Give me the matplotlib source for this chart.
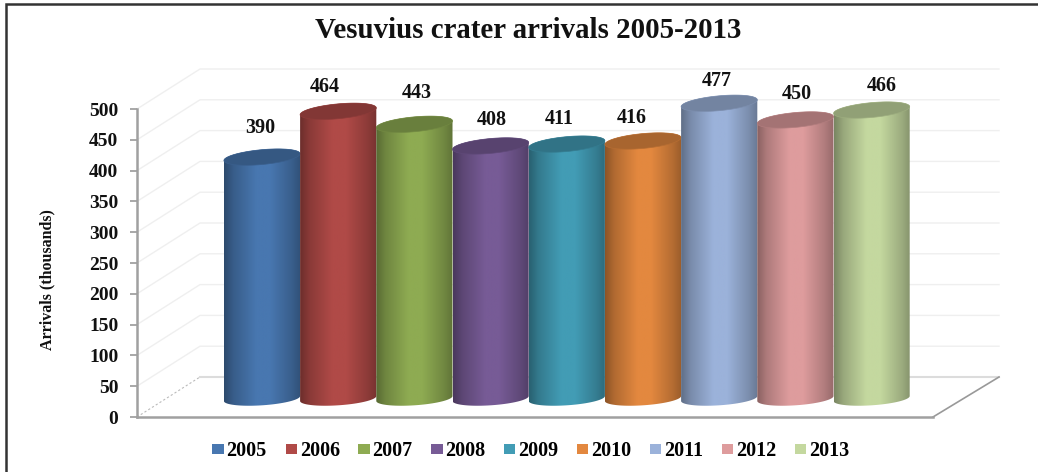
import numpy as np
import matplotlib
matplotlib.use("Agg")
import matplotlib.pyplot as plt
from matplotlib.patches import Patch, Polygon
from matplotlib.colors import to_rgb

years = ["2005", "2006", "2007", "2008", "2009", "2010", "2011", "2012", "2013"]
arrivals = [390, 464, 443, 408, 411, 416, 477, 450, 466]
y_ticks = [0, 50, 100, 150, 200, 250, 300, 350, 400, 450, 500]
colors = ["#4877b0", "#b04a47", "#8eab52", "#775b96", "#429cb5",
          "#e3883f", "#9bb2da", "#de9c9d", "#c4d89f"]
# hand placed label offsets (pixels from the top of each bar), labels are not centred in the source
label_dx = [-2, -13, 2, 1, -8, -11, -2, 1, 10]
label_dy = [29, 24, 31, 26, 25, 23, 22, 26, 24]

W, H = 1038, 472
SERIF = "Liberation Serif"

fig = plt.figure(figsize=(W / 100, H / 100), dpi=100, facecolor="white")

# background layer in pixels: border and the 3d wall
bg = fig.add_axes([0, 0, 1, 1])
bg.set_xlim(0, W)
bg.set_ylim(H, 0)
bg.axis("off")
bg.plot([6, 6, W], [H, 4, 4], color="#333333", lw=1.8, solid_joinstyle="miter")
for v in y_ticks[1:]:
    dy = v * 0.616
    bg.plot([137, 200, 999], [417 - dy, 377 - dy, 377 - dy], color="#efefef", lw=1)
bg.plot([137, 200], [417, 377], color="#bbbbbb", lw=0.8, ls=(0, (2, 2)))
bg.plot([200, 999], [377, 377], color="#dcdcdc", lw=1.5)
bg.plot([933, 999], [417, 377], color="#999999", lw=1.2)

# value axis
ax = fig.add_axes([137 / W, (H - 417) / H, (933 - 137) / W, 308 / H])
ax.patch.set_alpha(0)
ax.set_ylim(0, 500)
ax.set_xticks([])
ax.set_yticks(y_ticks)
ax.set_yticklabels(y_ticks, family=SERIF, weight="bold", fontsize=14, color="#111111")
ax.tick_params(axis="y", length=5, width=1.2, color="#999999", pad=8.5)
for s in ["top", "right"]:
    ax.spines[s].set_visible(False)
for s in ["left", "bottom"]:
    ax.spines[s].set_color("#a0a0a0")
    ax.spines[s].set_linewidth(1.8)

# cylinders layer: x is category index, y is thousands of arrivals
scale = 0.619
base_px = 398.5
step = 76.2
cyl = fig.add_axes([0, 0, 1, 1])
cyl.patch.set_alpha(0)
cyl.axis("off")

t = np.linspace(0, np.pi, 60)
shade_x = [0, 0.12, 0.42, 0.6, 0.88, 1]
shade_f = [0.62, 0.78, 1.0, 1.0, 0.8, 0.68]

for i, (val, col) in enumerate(zip(arrivals, colors)):
    rgb = np.array(to_rgb(col))
    # upper arc runs left to right, right side sits higher like the source
    xs = i - 0.5 * np.cos(t)
    top_up = val + 12 * np.sin(t) - 5.5 * np.cos(t)
    top_lo = val - 12 * np.sin(t) - 5.5 * np.cos(t)
    base_lo = -11 * np.sin(t) - 4 * np.cos(t)

    ramp = np.interp(np.linspace(0, 1, 120), shade_x, shade_f)
    img = np.clip(ramp[None, :, None] * rgb[None, None, :], 0, 1)
    im = cyl.imshow(img, extent=[i - 0.5, i + 0.5, -20, val + 20], aspect="auto",
                    interpolation="bilinear", zorder=2 + i)
    body = Polygon(np.r_[np.c_[xs, top_up], np.c_[xs[::-1], base_lo[::-1]]],
                   closed=True, transform=cyl.transData, fc="none", ec="none")
    cyl.add_patch(body)
    im.set_clip_path(body)
    cyl.add_patch(Polygon(np.r_[np.c_[xs, top_up], np.c_[xs[::-1], top_lo[::-1]]],
                          closed=True, fc=rgb * 0.74, ec=rgb * 0.8, lw=0.5, zorder=2 + i))
    cyl.annotate(str(val), (i, val), xytext=(label_dx[i], label_dy[i]),
                 textcoords="offset pixels", ha="center", va="center",
                 family=SERIF, weight="bold", fontsize=14.5, color="#111111", zorder=30)

cyl.set_xlim((0 - 262) / step, (W - 262) / step)
cyl.set_ylim((base_px - H) / scale, base_px / scale)

fig.text(528 / W, 1 - 31 / H, "Vesuvius crater arrivals 2005-2013", ha="center", va="center",
         family=SERIF, weight="bold", fontsize=20.8, color="#111111")
fig.text(47 / W, 1 - 280 / H, "Arrivals (thousands)", rotation=90, ha="center", va="center",
         family=SERIF, weight="bold", fontsize=11.5, color="#111111")

handles = [Patch(fc=c, ec="none", label=y) for c, y in zip(colors, years)]
fig.legend(handles=handles, ncol=9, loc="center", bbox_to_anchor=(531 / W, 1 - 451 / H),
           frameon=False, prop={"family": SERIF, "weight": "bold", "size": 14.5},
           handlelength=0.55, handleheight=0.4, handletextpad=0.15, columnspacing=0.93)

fig.savefig("out.png", dpi=100)
